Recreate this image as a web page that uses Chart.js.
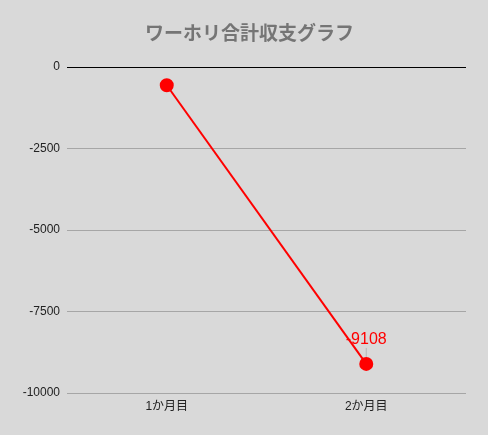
<!DOCTYPE html>
<html><head><meta charset="utf-8">
<script src="https://cdn.jsdelivr.net/npm/chart.js@4"></script>
<style>html,body{margin:0;padding:0;background:#d9d9d9;}#w{width:488px;height:435px;}</style>
</head><body><div id="w"><canvas id="c"></canvas></div>
<script>
const categories = ["1か月目", "2か月目"];
const totals = [-560, -9108];
const yTicks = [0, -2500, -5000, -7500, -10000];
const titleText = 'ワーホリ合計収支グラフ';
const labelIndex = 1;

const FONT = "'Liberation Sans', 'Noto Sans CJK JP', sans-serif";

const bgPlugin = {
  id: 'bg',
  beforeDraw(chart) {
    const ctx = chart.ctx;
    ctx.save();
    ctx.fillStyle = '#d9d9d9';
    ctx.fillRect(0, 0, chart.width, chart.height);
    ctx.restore();
  }
};

const titlePlugin = {
  id: 'ctitle',
  afterDraw(chart) {
    const ctx = chart.ctx;
    const a = chart.chartArea;
    ctx.save();
    ctx.fillStyle = '#757575';
    ctx.font = "bold 19px 'Noto Sans CJK JP', sans-serif";
    ctx.textAlign = 'center';
    ctx.textBaseline = 'middle';
    ctx.fillText(titleText, (a.left + a.right) / 2 - 17, a.top - 34);
    ctx.restore();
  }
};

const labelPlugin = {
  id: 'dlabel',
  afterDatasetsDraw(chart) {
    const meta = chart.getDatasetMeta(0);
    const pt = meta.data[labelIndex];
    const ctx = chart.ctx;
    ctx.save();
    ctx.strokeStyle = 'rgba(160,160,160,0.6)';
    ctx.lineWidth = 1;
    ctx.beginPath();
    ctx.moveTo(pt.x, pt.y - 7);
    ctx.lineTo(pt.x, pt.y - 16);
    ctx.stroke();
    ctx.fillStyle = '#ff0000';
    ctx.font = "16px " + FONT;
    ctx.textAlign = 'center';
    ctx.textBaseline = 'middle';
    ctx.fillText(String(totals[labelIndex]), pt.x, pt.y - 24);
    ctx.restore();
  }
};

new Chart(document.getElementById('c'), {
  type: 'line',
  data: {
    labels: categories,
    datasets: [{
      data: totals,
      borderColor: '#ff0000',
      backgroundColor: '#ff0000',
      borderWidth: 2,
      pointRadius: 6,
      pointHoverRadius: 6,
      tension: 0
    }]
  },
  options: {
    responsive: true,
    maintainAspectRatio: false,
    animation: false,
    devicePixelRatio: 1,
    layout: { padding: { left: 0, right: 22, top: 67, bottom: 0 } },
    plugins: {
      legend: { display: false },
      tooltip: { enabled: false },
      title: { display: false }
    },
    scales: {
      x: {
        offset: true,
        grid: { display: false, drawTicks: false },
        border: { display: false },
        ticks: { color: '#222', font: { family: FONT, size: 12 }, padding: 6 },
        afterFit(s) { s.height = 42; }
      },
      y: {
        min: -10000,
        max: 0,
        afterBuildTicks(s) { s.ticks = yTicks.map(v => ({ value: v })); },
        grid: {
          drawTicks: false,
          color: c => (c.tick && c.tick.value === 0) ? '#000000' : '#a6a6a6',
          lineWidth: 1
        },
        border: { display: false },
        ticks: { color: '#222', font: { family: FONT, size: 12 }, padding: 7, callback: v => String(v) },
        afterFit(s) { s.width = 67; }
      }
    }
  },
  plugins: [bgPlugin, titlePlugin, labelPlugin]
});
</script>
</body></html>
